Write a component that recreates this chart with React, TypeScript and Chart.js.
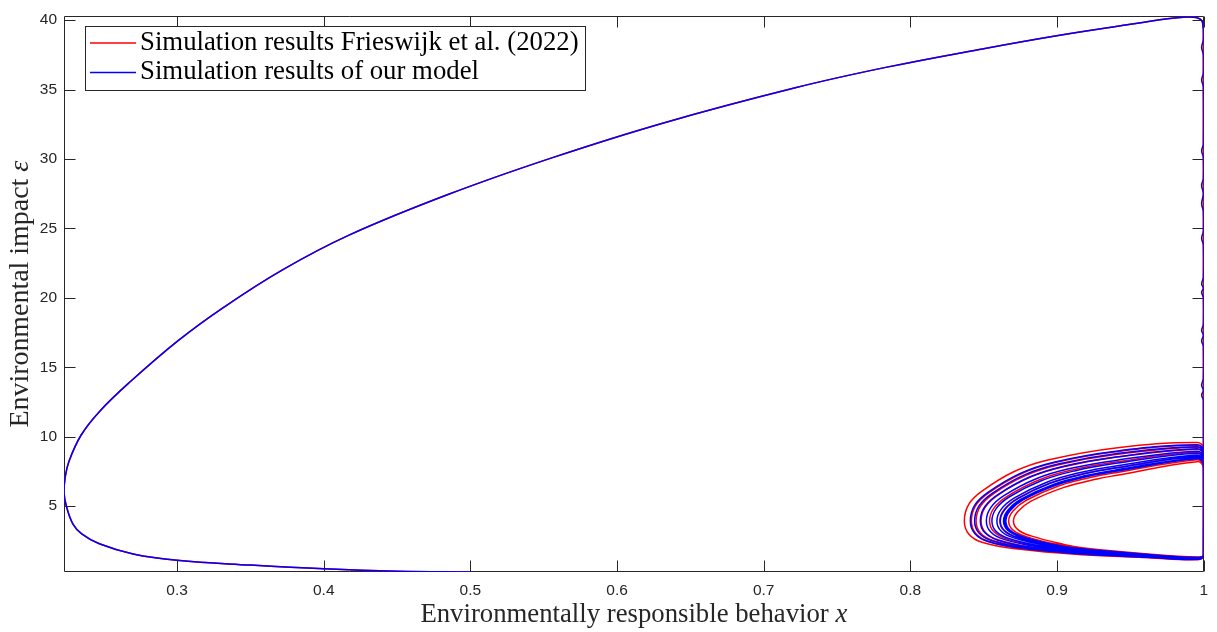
import React, { useEffect, useRef } from "react";
import { Chart, registerables } from "chart.js";
Chart.register(...registerables);

// ---------- data ----------
const xTicks = [0.3, 0.4, 0.5, 0.6, 0.7, 0.8, 0.9, 1];
const yTicks = [5, 10, 15, 20, 25, 30, 35, 40];
const xRange = [0.2229, 1.0];
const yRange = [0.25, 40.28];

const seriesLabels = [
  "Simulation results Frieswijk et al. (2022)",
  "Simulation results of our model",
];
const seriesColors = ["#ff0000", "#0000ff"];

// big transient arc (shared by both simulations)
const arcX = [0.5, 0.45, 0.4, 0.35, 0.3, 0.27, 0.247, 0.235, 0.229, 0.2245, 0.2229, 0.2236, 0.2262, 0.2345, 0.247, 0.268, 0.3005, 0.3315, 0.3716, 0.4169, 0.4847, 0.556, 0.6317, 0.7222, 0.7832, 0.85, 0.9008, 0.95, 0.98, 0.993, 0.9985, 0.9997];
const arcY = [0.25, 0.31, 0.48, 0.75, 1.09, 1.55, 2.28, 3.0, 3.7, 5.0, 6.0, 7.0, 8.2, 10.1, 11.8, 13.95, 16.9, 19.3, 22.0, 24.5, 27.44, 30.1, 32.6, 35.15, 36.6, 37.95, 38.9, 39.7, 40.15, 40.22, 40.0, 39.4];

// descent along x = 1
const redEdgeX = [0.9997, 0.9997];
const redEdgeY = [39.4, 1.45];
const blueEdgeX = [0.9998, 0.9998, 0.9986, 0.9998, 0.9998, 0.9986, 0.9998, 0.9998, 0.9986, 0.9998, 0.9998, 0.9986, 0.9998, 0.9986, 0.9998, 0.9998, 0.9986, 0.9998, 0.9998, 0.9986, 0.9998, 0.9986, 0.9998, 0.9998, 0.9986, 0.9998, 0.9986, 0.9998, 0.9998, 0.9986, 0.9998, 0.9986, 0.9998, 0.9998];
const blueEdgeY = [39.4, 38.6, 38.05, 37.5, 36.2, 35.7, 35.2, 31.1, 30.6, 30.1, 28.6, 28.1, 27.5, 26.8, 26.2, 24.8, 24.3, 23.8, 21.5, 21.0, 20.7, 20.4, 20.0, 18.1, 17.65, 17.3, 16.9, 16.5, 14.2, 13.7, 13.35, 13.0, 12.6, 1.45];

// limit-cycle loops (each loop: lower branch leftwards, upper branch rightwards, down the right edge)
const redLoopsX = [
  [0.996, 0.962, 0.917, 0.8718, 0.8488, 0.8398, 0.8368, 0.8398, 0.8488, 0.8708, 0.8938, 0.94, 0.9955, 0.9997, 0.9997],
  [0.996, 0.962, 0.917, 0.8766, 0.8536, 0.8446, 0.8416, 0.8446, 0.8536, 0.8756, 0.8986, 0.94, 0.9955, 0.9997, 0.9997],
  [0.996, 0.962, 0.917, 0.8798, 0.8568, 0.8478, 0.8448, 0.8478, 0.8568, 0.8788, 0.9018, 0.94, 0.9955, 0.9997, 0.9997],
  [0.996, 0.962, 0.917, 0.8832, 0.8602, 0.8512, 0.8482, 0.8512, 0.8602, 0.8822, 0.9052, 0.94, 0.9955, 0.9997, 0.9997],
  [0.996, 0.962, 0.917, 0.889, 0.866, 0.857, 0.854, 0.857, 0.866, 0.888, 0.911, 0.94, 0.9955, 0.9997, 0.9997],
  [0.996, 0.962, 0.917, 0.896, 0.873, 0.864, 0.861, 0.864, 0.873, 0.895, 0.918, 0.94, 0.9955, 0.9997, 0.9997],
  [0.996, 0.962, 0.917, 0.902, 0.879, 0.87, 0.867, 0.87, 0.879, 0.901, 0.924, 0.94, 0.9955, 0.9997, 0.9997],
  [0.996, 0.962, 0.917, 0.9053, 0.8823, 0.8733, 0.8703, 0.8733, 0.8823, 0.9043, 0.9273, 0.94, 0.9955, 0.9997, 0.9997],
];
const redLoopsY = [
  [1.14, 1.28, 1.49, 1.92, 2.39, 2.99, 3.93, 5.12, 6.07, 7.49, 8.32, 9.19, 9.57, 9.17, 1.45],
  [1.17, 1.32, 1.56, 1.96, 2.45, 3.03, 3.93, 5.05, 5.97, 7.33, 8.13, 8.91, 9.38, 8.98, 1.45],
  [1.19, 1.34, 1.61, 1.99, 2.5, 3.06, 3.93, 4.99, 5.9, 7.21, 7.99, 8.71, 9.24, 8.84, 1.45],
  [1.2, 1.37, 1.66, 2.02, 2.55, 3.1, 3.93, 4.94, 5.83, 7.1, 7.85, 8.51, 9.1, 8.7, 1.45],
  [1.24, 1.42, 1.75, 2.07, 2.62, 3.15, 3.93, 4.85, 5.7, 6.9, 7.62, 8.18, 8.87, 8.47, 1.45],
  [1.28, 1.47, 1.86, 2.14, 2.72, 3.21, 3.93, 4.75, 5.55, 6.65, 7.33, 7.76, 8.58, 8.18, 1.45],
  [1.31, 1.52, 1.95, 2.19, 2.8, 3.27, 3.93, 4.65, 5.42, 6.45, 7.09, 7.4, 8.34, 7.94, 1.45],
  [1.33, 1.55, 2.0, 2.22, 2.85, 3.3, 3.93, 4.6, 5.35, 6.33, 6.95, 7.2, 8.2, 7.8, 1.45],
];
const blueLoopsX = [
  [0.996, 0.962, 0.917, 0.8759, 0.8529, 0.8439, 0.8409, 0.8439, 0.8529, 0.8749, 0.8979, 0.94, 0.9955, 0.9997, 0.9997],
  [0.996, 0.962, 0.917, 0.8788, 0.8558, 0.8468, 0.8438, 0.8468, 0.8558, 0.8778, 0.9008, 0.94, 0.9955, 0.9997, 0.9997],
  [0.996, 0.962, 0.917, 0.8827, 0.8597, 0.8507, 0.8477, 0.8507, 0.8597, 0.8817, 0.9047, 0.94, 0.9955, 0.9997, 0.9997],
  [0.996, 0.962, 0.917, 0.8868, 0.8638, 0.8548, 0.8518, 0.8548, 0.8638, 0.8858, 0.9088, 0.94, 0.9955, 0.9997, 0.9997],
  [0.996, 0.962, 0.917, 0.8906, 0.8676, 0.8586, 0.8556, 0.8586, 0.8676, 0.8896, 0.9126, 0.94, 0.9955, 0.9997, 0.9997],
  [0.996, 0.962, 0.917, 0.894, 0.871, 0.862, 0.859, 0.862, 0.871, 0.893, 0.916, 0.94, 0.9955, 0.9997, 0.9997],
  [0.996, 0.962, 0.917, 0.8963, 0.8733, 0.8643, 0.8613, 0.8643, 0.8733, 0.8953, 0.9183, 0.94, 0.9955, 0.9997, 0.9997],
  [0.996, 0.962, 0.917, 0.8985, 0.8755, 0.8665, 0.8635, 0.8665, 0.8755, 0.8975, 0.9205, 0.94, 0.9955, 0.9997, 0.9997],
  [0.996, 0.962, 0.917, 0.8995, 0.8765, 0.8675, 0.8645, 0.8675, 0.8765, 0.8985, 0.9215, 0.94, 0.9955, 0.9997, 0.9997],
  [0.996, 0.962, 0.917, 0.9001, 0.8771, 0.8681, 0.8651, 0.8681, 0.8771, 0.8991, 0.9221, 0.94, 0.9955, 0.9997, 0.9997],
];
const blueLoopsY = [
  [1.16, 1.31, 1.55, 1.96, 2.45, 3.03, 3.93, 5.06, 5.98, 7.35, 8.16, 8.95, 9.41, 9.01, 1.45],
  [1.18, 1.34, 1.6, 1.98, 2.49, 3.06, 3.93, 5.01, 5.92, 7.25, 8.03, 8.77, 9.28, 8.88, 1.45],
  [1.2, 1.37, 1.66, 2.02, 2.54, 3.09, 3.93, 4.95, 5.83, 7.11, 7.87, 8.53, 9.12, 8.72, 1.45],
  [1.23, 1.4, 1.72, 2.06, 2.6, 3.13, 3.93, 4.89, 5.75, 6.97, 7.7, 8.29, 8.95, 8.55, 1.45],
  [1.25, 1.43, 1.78, 2.09, 2.65, 3.16, 3.93, 4.83, 5.67, 6.84, 7.55, 8.08, 8.8, 8.4, 1.45],
  [1.27, 1.46, 1.83, 2.12, 2.69, 3.19, 3.93, 4.78, 5.59, 6.72, 7.42, 7.88, 8.67, 8.27, 1.45],
  [1.28, 1.48, 1.86, 2.14, 2.73, 3.22, 3.93, 4.74, 5.54, 6.64, 7.32, 7.74, 8.57, 8.17, 1.45],
  [1.29, 1.5, 1.9, 2.16, 2.76, 3.24, 3.93, 4.7, 5.49, 6.56, 7.22, 7.6, 8.47, 8.07, 1.45],
  [1.3, 1.5, 1.91, 2.17, 2.77, 3.25, 3.93, 4.69, 5.47, 6.53, 7.18, 7.54, 8.43, 8.03, 1.45],
  [1.3, 1.51, 1.92, 2.18, 2.78, 3.25, 3.93, 4.68, 5.46, 6.5, 7.16, 7.5, 8.4, 8.0, 1.45],
];

const xTitle = ["Environmentally responsible behavior ", "x"];
const yTitle = ["Environmental impact ", "\u03b5"];

// ---------- helpers ----------
const toPts = (xs: number[], ys: number[]) => xs.map((x, i) => ({ x, y: ys[i] }));
const buildSeries = (ex: number[], ey: number[], lx: number[][], ly: number[][]) => [
  ...toPts(arcX, arcY),
  ...toPts(ex, ey),
  ...lx.flatMap((xs, k) => toPts(xs, ly[k])),
];

const AXIS = "#262626";
const SERIF = "'Liberation Serif', 'Times New Roman', serif";
const SANS = "'Liberation Sans', Arial, Helvetica, sans-serif";

function fitSize(ctx: CanvasRenderingContext2D, parts: string[], target: number) {
  const base = 24;
  ctx.font = `${base}px ${SERIF}`;
  const w0 = ctx.measureText(parts[0]).width;
  ctx.font = `italic ${base}px ${SERIF}`;
  const w1 = parts[1] ? ctx.measureText(parts[1]).width : 0;
  return (base * target) / (w0 + w1);
}

function drawMixed(ctx: CanvasRenderingContext2D, parts: string[], size: number, cx: number, baseY: number) {
  ctx.font = `${size}px ${SERIF}`;
  const w0 = ctx.measureText(parts[0]).width;
  ctx.font = `italic ${size}px ${SERIF}`;
  const w1 = parts[1] ? ctx.measureText(parts[1]).width : 0;
  let x = cx - (w0 + w1) / 2;
  ctx.textAlign = "left";
  ctx.textBaseline = "alphabetic";
  ctx.font = `${size}px ${SERIF}`;
  ctx.fillText(parts[0], x, baseY);
  x += w0;
  if (parts[1]) {
    ctx.font = `italic ${size}px ${SERIF}`;
    ctx.fillText(parts[1], x, baseY);
  }
}

const framePlugin = {
  id: "matlabFrame",
  beforeDatasetsDraw(chart: any) {
    const { ctx, chartArea: a, scales } = chart;
    ctx.save();
    ctx.strokeStyle = AXIS;
    ctx.lineWidth = 1;
    const L = 11;
    const left = Math.round(a.left) + 0.5;
    const right = Math.round(a.right) - 0.5;
    const top = Math.round(a.top) + 0.5;
    const bottom = Math.round(a.bottom) - 0.5;
    ctx.beginPath();
    ctx.rect(left, top, right - left, bottom - top);
    xTicks.forEach((v) => {
      const px = Math.round(scales.x.getPixelForValue(v)) + 0.5;
      ctx.moveTo(px, bottom);
      ctx.lineTo(px, bottom - L);
      ctx.moveTo(px, top);
      ctx.lineTo(px, top + L);
    });
    yTicks.forEach((v) => {
      const py = Math.round(scales.y.getPixelForValue(v)) + 0.5;
      ctx.moveTo(left, py);
      ctx.lineTo(left + L, py);
      ctx.moveTo(right, py);
      ctx.lineTo(right - L, py);
    });
    ctx.stroke();
    ctx.restore();
  },
  afterDraw(chart: any) {
    const { ctx, chartArea: a } = chart;
    ctx.save();
    ctx.fillStyle = AXIS;
    // axis titles
    const xs = fitSize(ctx, xTitle, 427);
    drawMixed(ctx, xTitle, xs, (a.left + a.right) / 2, 622);
    const ys = fitSize(ctx, yTitle, 267);
    ctx.save();
    ctx.translate(28, (a.top + a.bottom) / 2);
    ctx.rotate(-Math.PI / 2);
    drawMixed(ctx, yTitle, ys, 0, 0);
    ctx.restore();

    // legend
    const bx = 85.5, by = 26.5, bw = 500, bh = 64;
    ctx.fillStyle = "#ffffff";
    ctx.fillRect(bx, by, bw, bh);
    ctx.strokeStyle = AXIS;
    ctx.lineWidth = 1;
    ctx.strokeRect(bx, by, bw, bh);
    const ls = fitSize(ctx, [seriesLabels[0]], 439);
    const rows = [43, 72.5];
    const bases = [49.5, 79];
    seriesLabels.forEach((lab, i) => {
      ctx.strokeStyle = seriesColors[i];
      ctx.lineWidth = 1.5;
      ctx.beginPath();
      ctx.moveTo(90, rows[i]);
      ctx.lineTo(136, rows[i]);
      ctx.stroke();
      ctx.fillStyle = "#000000";
      ctx.font = `${ls}px ${SERIF}`;
      ctx.textAlign = "left";
      ctx.textBaseline = "alphabetic";
      ctx.fillText(lab, 140, bases[i]);
    });
    ctx.restore();
  },
};

export default function App() {
  const ref = useRef<HTMLCanvasElement | null>(null);
  useEffect(() => {
    if (!ref.current) return;
    const chart = new Chart(ref.current, {
      type: "scatter",
      data: {
        datasets: [
          {
            label: seriesLabels[0],
            data: buildSeries(redEdgeX, redEdgeY, redLoopsX, redLoopsY),
            borderColor: seriesColors[0],
            backgroundColor: seriesColors[0],
            borderWidth: 1.5,
            showLine: true,
            pointRadius: 0,
            tension: 0.4,
            order: 2,
          },
          {
            label: seriesLabels[1],
            data: buildSeries(blueEdgeX, blueEdgeY, blueLoopsX, blueLoopsY),
            borderColor: seriesColors[1],
            backgroundColor: seriesColors[1],
            borderWidth: 1.5,
            showLine: true,
            pointRadius: 0,
            tension: 0.4,
            order: 1,
          },
        ],
      },
      options: {
        animation: false,
        responsive: false,
        devicePixelRatio: 1,
        layout: { padding: { left: 0, right: 6, top: 7, bottom: 0 } },
        plugins: { legend: { display: false }, tooltip: { enabled: false } },
        scales: {
          x: {
            type: "linear",
            min: xRange[0],
            max: xRange[1],
            grid: { display: false, drawTicks: false },
            border: { display: false },
            afterBuildTicks: (s: any) => {
              s.ticks = xTicks.map((v) => ({ value: v }));
            },
            afterFit: (s: any) => {
              s.height = 60;
            },
            ticks: {
              padding: 9,
              color: AXIS,
              font: { family: SANS, size: 15.5 },
              maxRotation: 0,
              autoSkip: false,
              callback: (v: any) => String(Math.round(Number(v) * 10) / 10),
            },
          },
          y: {
            type: "linear",
            min: yRange[0],
            max: yRange[1],
            grid: { display: false, drawTicks: false },
            border: { display: false },
            afterBuildTicks: (s: any) => {
              s.ticks = yTicks.map((v) => ({ value: v }));
            },
            afterFit: (s: any) => {
              s.width = 64;
            },
            ticks: {
              padding: 7,
              color: AXIS,
              font: { family: SANS, size: 15.5 },
              autoSkip: false,
              callback: (v: any) => String(v),
            },
          },
        },
      },
      plugins: [framePlugin],
    });
    return () => chart.destroy();
  }, []);
  return (
    <div style={{ position: "fixed", left: 0, top: 0, width: 1217, height: 632, background: "#fff" }}>
      <canvas ref={ref} width={1217} height={632} style={{ display: "block", width: 1217, height: 632 }} />
    </div>
  );
}
